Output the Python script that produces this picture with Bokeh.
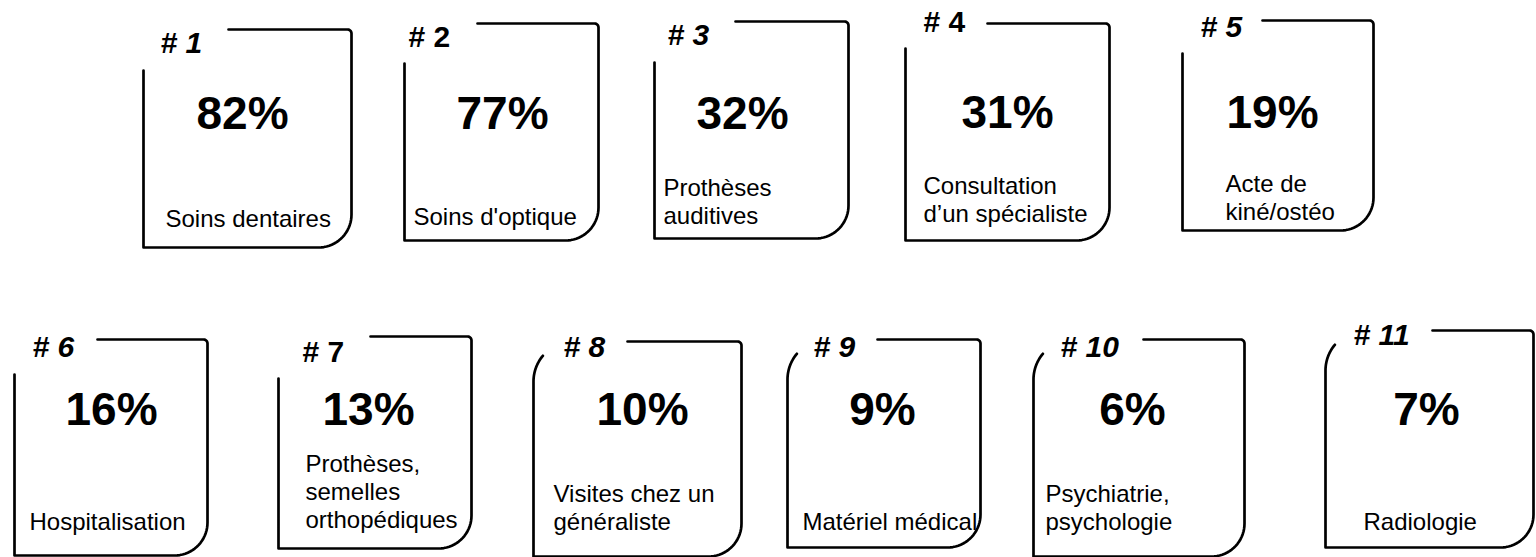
import numpy as np
from bokeh.plotting import figure
from bokeh.models import ColumnDataSource, Range1d
from bokeh.embed import file_html
from bokeh.resources import INLINE
from bokeh.core.properties import value

# ---------------- data ----------------
ranks = [1, 2, 3, 4, 5, 6, 7, 8, 9, 10, 11]
shares = [82, 77, 32, 31, 19, 16, 13, 10, 9, 6, 7]
categories = [
    "Soins dentaires",
    "Soins d'optique",
    "Prothèses\nauditives",
    "Consultation\nd’un spécialiste",
    "Acte de\nkiné/ostéo",
    "Hospitalisation",
    "Prothèses,\nsemelles\northopédiques",
    "Visites chez un\ngénéraliste",
    "Matériel médical",
    "Psychiatrie,\npsychologie",
    "Radiologie",
]

# ---------------- layout (card geometry, page units) ----------------
card_left = [143, 404, 654, 905, 1182, 14, 278, 533, 787, 1033, 1325]
card_top = [29, 23, 21, 23, 20, 339, 336, 341, 339, 339, 330]
card_right = [351, 598, 848, 1109, 1373, 207, 471, 741, 980, 1244, 1533]
card_bottom = [247, 240, 238, 240, 230, 555, 548, 556, 547, 556, 547]
card_tab = [228, 477, 735, 987, 1262, 97, 370, 627, 877, 1143, 1432]
card_left_start = [70, 63, 62, 48, 53, 374, 378, None, None, None, None]
rank_x = [160, 408, 667, 923, 1200, 32, 302, 563, 813, 1060, 1353]
rank_base = [53, 47, 45, 32, 37, 357, 362, 357, 357, 357, 345]
rank_italic = [True, False, True, False, True, True, False, True, True, True, True]
value_x = [242, 502, 742, 1007, 1272, 111, 368, 642, 882, 1132, 1426]
value_base = [129, 129, 129, 128, 128, 425, 425, 425, 425, 425, 425]
desc_x = [165, 413, 663, 923, 1225, 29, 305, 553, 802, 1045, 1363]
desc_base = [227, 225, 224, 222, 220, 530, 528, 530, 530, 530, 530]
LINE_H = 28

FONT = "Liberation Sans"
RANK_FS, VALUE_FS, DESC_FS = 30, 46, 24
BASE_SHIFT = 0.36   # renderer places "alphabetic" text lower by ~0.36 em
R_BR = 33   # bottom-right radius
R_TR = 4    # top-right radius
R_TL = 40   # top-left radius (rounded cards)


def arc(cx, cy, r, a0, a1, n=20):
    a = np.radians(np.linspace(a0, a1, n))
    return list(cx + r * np.cos(a)), list(cy + r * np.sin(a))


xs, ys = [], []
for i in range(len(ranks)):
    L, T, Rr, B = card_left[i], card_top[i], card_right[i], card_bottom[i]
    px, py = [card_tab[i]], [T]
    ax, ay = arc(Rr - R_TR, T + R_TR, R_TR, -90, 0, 8)
    px += ax; py += ay
    ax, ay = arc(Rr - R_BR, B - R_BR, R_BR, 0, 90)
    px += ax; py += ay
    px.append(L); py.append(B)
    if card_left_start[i] is not None:
        px.append(L); py.append(card_left_start[i])
    else:
        ax, ay = arc(L + R_TL, T + R_TL, R_TL, 180, 220)
        px += ax; py += ay
    xs.append(px); ys.append(py)

p = figure(width=1536, height=557, x_range=Range1d(0, 1536), y_range=Range1d(557, 0),
           output_backend="svg", toolbar_location=None, min_border=0)
p.axis.visible = False
p.grid.visible = False
p.outline_line_color = None
p.background_fill_color = "white"
p.border_fill_color = "white"

p.multi_line(xs=xs, ys=ys, line_color="black", line_width=2.7,
             line_join="round", line_cap="round")

rank_src = ColumnDataSource(dict(
    x=rank_x, y=[b - BASE_SHIFT * RANK_FS for b in rank_base],
    t=[f"# {r}" for r in ranks],
    st=["bold italic" if it else "bold" for it in rank_italic],
))
p.text(x="x", y="y", text="t", source=rank_src, text_font=value(FONT),
       text_font_size=f"{RANK_FS}px", text_font_style="st", text_color="black",
       text_align="left", text_baseline="alphabetic")

val_src = ColumnDataSource(dict(x=value_x,
                                y=[b - BASE_SHIFT * VALUE_FS for b in value_base],
                                t=[f"{s}%" for s in shares]))
p.text(x="x", y="y", text="t", source=val_src, text_font=value(FONT),
       text_font_size=f"{VALUE_FS}px", text_font_style="bold", text_color="black",
       text_align="center", text_baseline="alphabetic")

dx, dy, dt = [], [], []
for i, c in enumerate(categories):
    lines = c.split("\n")
    n = len(lines)
    for j, ln in enumerate(lines):
        dx.append(desc_x[i])
        dy.append(desc_base[i] - (n - 1 - j) * LINE_H - BASE_SHIFT * DESC_FS)
        dt.append(ln)
desc_src = ColumnDataSource(dict(x=dx, y=dy, t=dt))
p.text(x="x", y="y", text="t", source=desc_src, text_font=value(FONT),
       text_font_size=f"{DESC_FS}px", text_color="black",
       text_align="left", text_baseline="alphabetic")

open("out.html", "w").write(file_html(p, INLINE))
